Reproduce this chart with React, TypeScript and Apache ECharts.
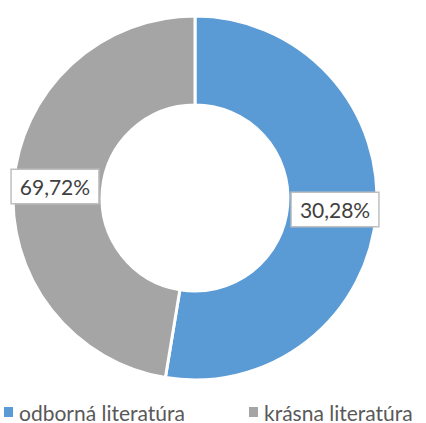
import React, { useEffect, useRef } from "react";
import * as echarts from "echarts";

const categories = ["odborná literatúra", "krásna literatúra"];
// slice shares as drawn in the picture (angle of each ring segment)
const sliceShares = [52.6, 47.4];
// percentages printed on the labels
const labelPercents = [30.28, 69.72];
const colors = ["#5B9BD5", "#A5A5A5"];

const FONT = "Lato";

export default function App() {
  const ref = useRef<HTMLDivElement>(null);
  useEffect(() => {
    document.body.style.margin = "0";
    const chart = echarts.init(ref.current!, null, { renderer: "svg" });
    const legendBase = {
      top: 400,
      padding: 0,
      itemWidth: 11,
      itemHeight: 12,
      icon: "rect",
      textStyle: {
        fontFamily: FONT,
        fontSize: 21,
        lineHeight: 21,
        color: "#595959",
        padding: [3, 0, 0, 0],
      },
    };
    chart.setOption({
      animation: false,
      color: colors,
      legend: [
        { ...legendBase, left: 2, data: [categories[0]] },
        { ...legendBase, left: 247, data: [categories[1]] },
      ],
      series: [
        {
          type: "pie",
          center: [195, 198],
          radius: [93, 182],
          startAngle: 90,
          clockwise: true,
          avoidLabelOverlap: false,
          itemStyle: { borderColor: "#ffffff", borderWidth: 3 },
          label: {
            show: true,
            position: "inside",
            formatter: (p: any) =>
              labelPercents[p.dataIndex].toFixed(2).replace(".", ",") + "%",
            fontFamily: FONT,
            fontSize: 21,
            color: "#404040",
            backgroundColor: "#ffffff",
            borderColor: "#bfbfbf",
            borderWidth: 1.5,
            padding: [7, 8, 5, 8],
          },
          labelLine: { show: false },
          emphasis: { disabled: true },
          data: categories.map((name, i) => ({ name, value: sliceShares[i] })),
        },
      ],
    });
    return () => chart.dispose();
  }, []);
  return <div ref={ref} style={{ width: 426, height: 423 }} />;
}
